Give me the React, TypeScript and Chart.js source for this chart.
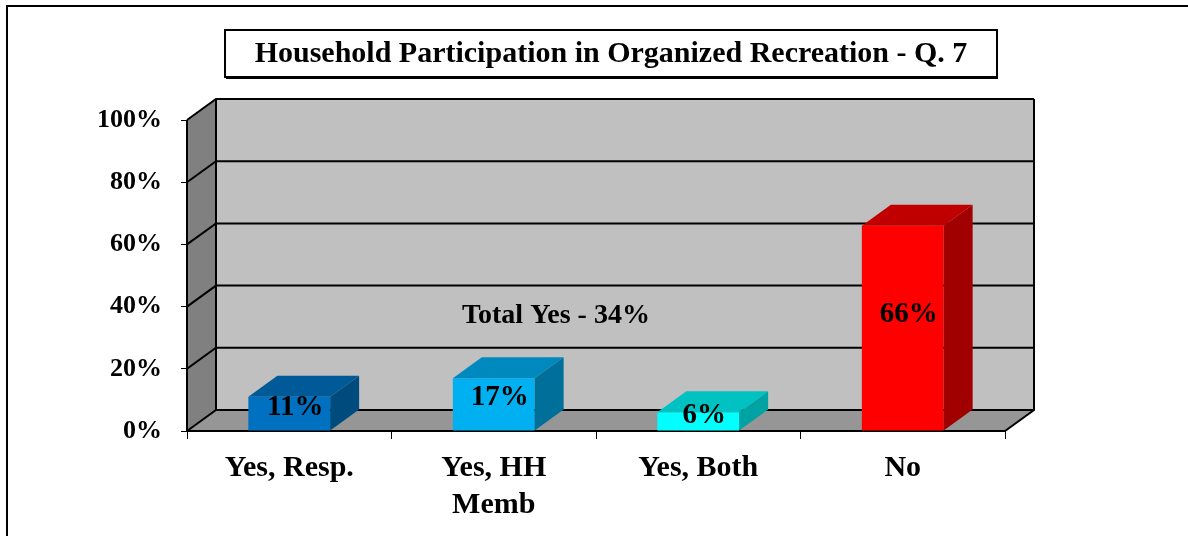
import React, { useEffect, useRef } from 'react';
import { Chart, registerables } from 'chart.js';

Chart.register(...registerables);

const categories: string[][] = [['Yes, Resp.'], ['Yes, HH', 'Memb'], ['Yes, Both'], ['No']];
const values: number[] = [11, 17, 6, 66];
const valueLabels: string[] = ['11%', '17%', '6%', '66%'];
const yTickValues: number[] = [0, 20, 40, 60, 80, 100];
const yTickLabels: string[] = ['0%', '20%', '40%', '60%', '80%', '100%'];
const frontColors: string[] = ['#0070C0', '#00B0F0', '#00FFFF', '#FF0000'];
const topColors: string[] = ['#005A98', '#0089BE', '#00C2C2', '#C00000'];
const sideColors: string[] = ['#004B7E', '#00709A', '#00A3A3', '#A00000'];
const titleText = 'Household Participation in Organized Recreation - Q. 7';
const noteText = 'Total Yes - 34%';
const noteValue = 37;

const DX = 29;
const DY = -21;
const FONT = '"Liberation Serif", "Times New Roman", serif';

const threeD = {
  id: 'threeD',
  beforeDraw(chart: any) {
    const { ctx, chartArea: a, scales } = chart;
    const ys = scales.y;
    const L = a.left, R = a.right, T = a.top, B = a.bottom;
    ctx.save();
    ctx.fillStyle = '#ffffff';
    ctx.fillRect(0, 0, chart.width, chart.height);
    // outer frame
    ctx.fillStyle = '#000';
    ctx.fillRect(6, 5, 2, chart.height);
    ctx.fillRect(6, 5, chart.width, 2);
    // title box
    ctx.fillStyle = '#fff';
    ctx.fillRect(225, 30, 772, 47);
    ctx.strokeStyle = '#000';
    ctx.lineWidth = 2;
    ctx.strokeRect(225, 30, 772, 47);
    ctx.fillStyle = '#000';
    ctx.fillRect(226, 77, 772, 2);
    ctx.fillStyle = '#000';
    ctx.font = 'bold 30px ' + FONT;
    ctx.textAlign = 'center';
    ctx.textBaseline = 'alphabetic';
    ctx.fillText(titleText, 611, 62);

    // back wall
    ctx.fillStyle = '#C0C0C0';
    ctx.fillRect(L + DX, T + DY, R - L, B - T);
    // left wall
    ctx.fillStyle = '#808080';
    ctx.beginPath();
    ctx.moveTo(L, T);
    ctx.lineTo(L + DX, T + DY);
    ctx.lineTo(L + DX, B + DY);
    ctx.lineTo(L, B);
    ctx.closePath();
    ctx.fill();
    // floor
    ctx.fillStyle = '#969696';
    ctx.beginPath();
    ctx.moveTo(L, B);
    ctx.lineTo(L + DX, B + DY);
    ctx.lineTo(R + DX, B + DY);
    ctx.lineTo(R, B);
    ctx.closePath();
    ctx.fill();

    ctx.strokeStyle = '#000';
    ctx.lineWidth = 2;
    // gridlines
    yTickValues.forEach((v) => {
      const yf = ys.getPixelForValue(v);
      ctx.beginPath();
      ctx.moveTo(L, yf);
      ctx.lineTo(L + DX, yf + DY);
      ctx.lineTo(R + DX, yf + DY);
      ctx.stroke();
    });
    // edges
    ctx.beginPath();
    ctx.moveTo(L, T);
    ctx.lineTo(L, B);
    ctx.lineTo(R, B);
    ctx.lineTo(R + DX, B + DY);
    ctx.lineTo(R + DX, T + DY);
    ctx.moveTo(L + DX, T + DY);
    ctx.lineTo(L + DX, B + DY);
    ctx.stroke();
    ctx.restore();
  },
  afterDatasetsDraw(chart: any) {
    const { ctx, chartArea: a, scales } = chart;
    const meta = chart.getDatasetMeta(0);
    ctx.save();
    meta.data.forEach((el: any, i: number) => {
      const x0 = el.x - el.width / 2;
      const x1 = el.x + el.width / 2;
      const y = el.y;
      const b = el.base;
      ctx.fillStyle = topColors[i];
      ctx.beginPath();
      ctx.moveTo(x0, y);
      ctx.lineTo(x0 + DX, y + DY);
      ctx.lineTo(x1 + DX, y + DY);
      ctx.lineTo(x1, y);
      ctx.closePath();
      ctx.fill();
      ctx.fillStyle = sideColors[i];
      ctx.beginPath();
      ctx.moveTo(x1, y);
      ctx.lineTo(x1 + DX, y + DY);
      ctx.lineTo(x1 + DX, b + DY);
      ctx.lineTo(x1, b);
      ctx.closePath();
      ctx.fill();
    });
    ctx.fillStyle = '#000';
    ctx.font = 'bold 29px ' + FONT;
    ctx.textAlign = 'center';
    ctx.textBaseline = 'middle';
    meta.data.forEach((el: any, i: number) => {
      const h = el.base - el.y;
      const ly = (el.y + el.base) / 2 - 5 - 0.04 * h;
      ctx.fillText(valueLabels[i], el.x + 6, ly);
    });
    ctx.font = 'bold 28px ' + FONT;
    const nx = a.left + (a.right - a.left) * 0.451;
    ctx.fillText(noteText, nx, scales.y.getPixelForValue(noteValue));
    ctx.restore();
  },
};

export default function App() {
  const ref = useRef<HTMLCanvasElement>(null);
  useEffect(() => {
    document.body.style.margin = '0';
    const canvas = ref.current!;
    const chart = new Chart(canvas, {
      type: 'bar',
      data: {
        labels: categories as any,
        datasets: [
          {
            data: values,
            backgroundColor: frontColors,
            borderWidth: 0,
            barPercentage: 0.4,
            categoryPercentage: 1,
          },
        ],
      },
      options: {
        responsive: false,
        animation: false,
        devicePixelRatio: 1,
        layout: { padding: { top: 120, right: 183, left: 0, bottom: 0 } },
        plugins: { legend: { display: false }, tooltip: { enabled: false }, title: { display: false } },
        scales: {
          x: {
            grid: { display: true, drawOnChartArea: false, offset: true, tickLength: 8, color: '#000', lineWidth: 1 },
            border: { display: false },
            ticks: {
              color: '#000',
              font: { family: FONT, weight: 'bold', size: 30, lineHeight: 1.22 },
              padding: 11,
              maxRotation: 0,
              autoSkip: false,
            },
            afterFit: (s: any) => { s.height = 105; },
          },
          y: {
            min: 0,
            max: 100,
            afterBuildTicks: (s: any) => { s.ticks = yTickValues.map((v) => ({ value: v })); },
            grid: { display: true, drawOnChartArea: false, tickLength: 6, color: '#000', lineWidth: 1 },
            border: { display: false },
            ticks: {
              color: '#000',
              font: { family: FONT, weight: 'bold', size: 26 },
              padding: 19,
              callback: (_v: any, i: number) => yTickLabels[i],
            },
            afterFit: (s: any) => { s.width = 187; },
          },
        },
      } as any,
      plugins: [threeD],
    });
    return () => chart.destroy();
  }, []);
  return (
    <div style={{ position: 'absolute', left: 0, top: 0, width: 1188, height: 536 }}>
      <canvas ref={ref} width={1188} height={536} style={{ display: 'block', width: 1188, height: 536 }} />
    </div>
  );
}
